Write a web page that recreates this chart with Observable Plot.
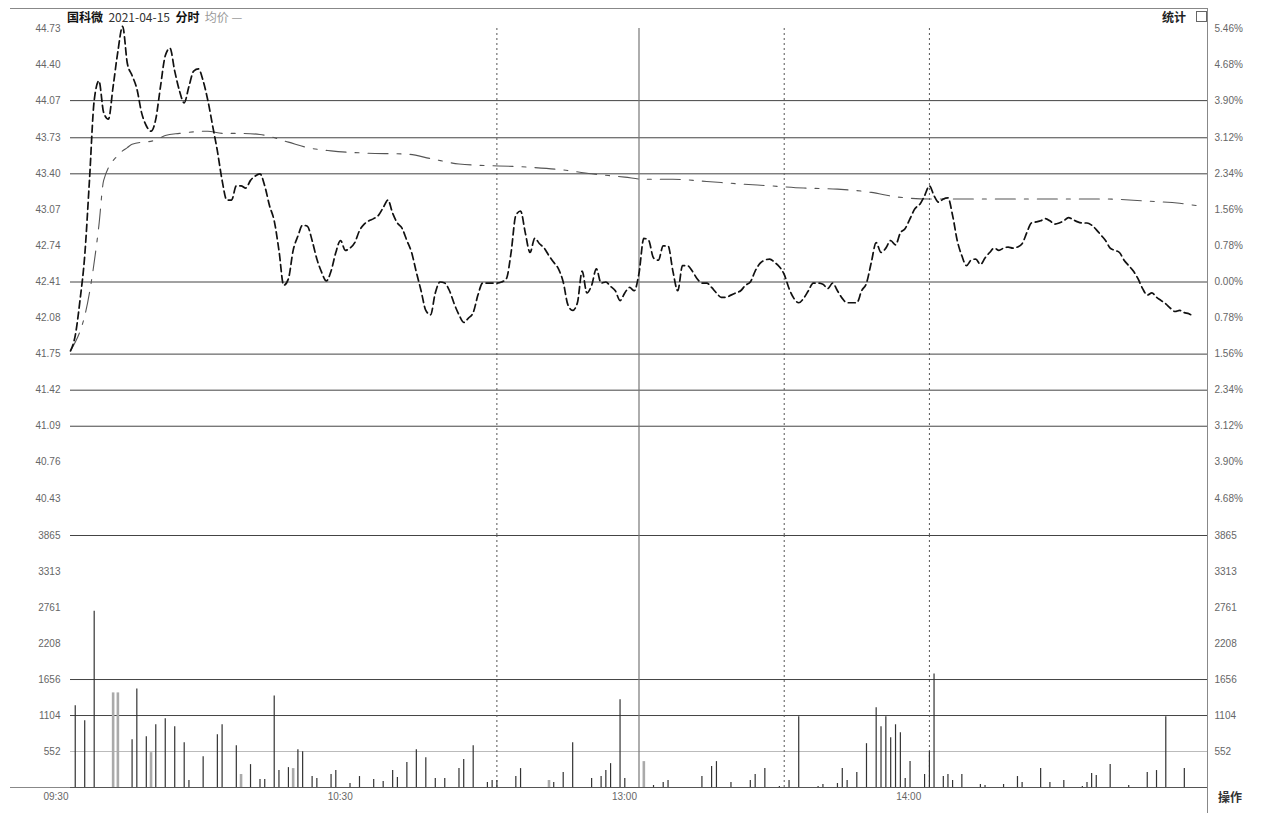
<!DOCTYPE html>
<html><head><meta charset="utf-8">
<script src="https://cdn.jsdelivr.net/npm/d3@7"></script>
<script src="https://cdn.jsdelivr.net/npm/@observablehq/plot@0.6"></script>
<style>
body{margin:0;background:#fff;}
#wrap{position:relative;width:1282px;height:818px;overflow:hidden;background:#fff;font-family:"Noto Sans CJK SC","DejaVu Sans",sans-serif;}
#wrap svg{position:absolute;left:0;top:0;}
.ov{position:absolute;white-space:nowrap;}
</style></head><body><div id="wrap"></div>
<script>
// ---------- data ----------
const prevClose = 42.41;
const priceTicks = [44.73, 44.40, 44.07, 43.73, 43.40, 43.07, 42.74, 42.41, 42.08, 41.75, 41.42, 41.09, 40.76, 40.43, 40.09];
const priceTickLabels = ["44.73","44.40","44.07","43.73","43.40","43.07","42.74","42.41","42.08","41.75","41.42","41.09","40.76","40.43",""];
const pctTickLabels = ["5.46%","4.68%","3.90%","3.12%","2.34%","1.56%","0.78%","0.00%","0.78%","1.56%","2.34%","3.12%","3.90%","4.68%",""];
const priceGridLines = [44.07, 43.73, 43.40, 42.41, 41.75, 41.42, 41.09];
const volTicks = [552, 1104, 1656, 2208, 2761, 3313, 3865];
const volTickLabels = ["552","1104","1656","2208","2761","3313","3865"];
const volGridDark = [1104, 1656, 3865];
const volGridLight = [552];
const timeTicks = [0, 60, 120, 180];
const timeTickLabels = ["09:30", "10:30", "13:00", "14:00"];
const dottedDividers = [90, 150, 180];
const solidDividers = [120];

// price per minute (minute index 0 = 09:30)
const priceValues = [
41.78,41.92,42.24,42.65,43.34,44.07,44.25,43.96,43.90,44.20,
44.52,44.75,44.41,44.30,44.18,43.96,43.84,43.79,43.90,44.20,
44.48,44.55,44.34,44.16,44.05,44.20,44.34,44.36,44.25,44.07,
43.84,43.61,43.34,43.16,43.16,43.29,43.29,43.27,43.34,43.38,
43.40,43.29,43.11,42.97,42.70,42.38,42.44,42.70,42.83,42.93,
42.92,42.79,42.62,42.50,42.42,42.51,42.68,42.79,42.70,42.72,
42.77,42.88,42.94,42.97,42.99,43.02,43.09,43.16,43.04,42.95,
42.90,42.79,42.68,42.50,42.33,42.15,42.11,42.31,42.41,42.40,
42.33,42.21,42.11,42.04,42.08,42.13,42.29,42.40,42.40,42.40,
42.40,42.41,42.44,42.68,43.02,43.06,42.86,42.68,42.81,42.76,
42.72,42.65,42.59,42.53,42.41,42.20,42.15,42.22,42.51,42.31,
42.38,42.53,42.40,42.41,42.37,42.33,42.24,42.31,42.36,42.33,
42.49,
42.81,42.79,42.63,42.61,42.74,42.74,42.51,42.33,42.56,42.56,
42.51,42.44,42.40,42.40,42.36,42.31,42.27,42.27,42.29,42.31,
42.33,42.38,42.41,42.51,42.58,42.61,42.62,42.59,42.55,42.48,
42.35,42.26,42.22,42.26,42.33,42.40,42.40,42.39,42.35,42.40,
42.33,42.26,42.22,42.22,42.22,42.33,42.40,42.59,42.77,42.68,
42.72,42.79,42.75,42.86,42.90,42.99,43.08,43.12,43.20,43.29,
43.20,43.14,43.17,43.18,43.02,42.79,42.65,42.56,42.61,42.62,
42.57,42.63,42.68,42.72,42.70,42.72,42.73,42.72,42.73,42.76,
42.86,42.95,42.96,42.97,42.99,42.97,42.94,42.95,42.97,43.00,
42.98,42.96,42.95,42.95,42.93,42.89,42.84,42.79,42.72,42.70,
42.68,42.61,42.56,42.51,42.44,42.35,42.29,42.31,42.27,42.24,
42.21,42.17,42.14,42.15,42.13,42.12,42.09
];

const avgMinutes = [0,4,6,7,10,12,13,18,20,23,29,32,36,40,46,50,55,62,71,76,82,97,103,110,117,121,127,134,140,147,154,161,168,173,180,190,217,227,234,239];
const avgValues  = [41.78,42.31,42.93,43.34,43.57,43.64,43.67,43.71,43.75,43.77,43.79,43.77,43.77,43.76,43.69,43.64,43.61,43.59,43.58,43.54,43.49,43.46,43.44,43.40,43.37,43.35,43.35,43.33,43.31,43.29,43.27,43.26,43.23,43.19,43.17,43.17,43.17,43.15,43.13,43.10];

const volMinutes = [1,3,5,9,10,13,14,16,17,18,20,22,24,25,28,31,32,35,36,38,40,41,43,44,46,47,48,49,51,52,55,56,59,61,64,66,68,69,71,73,75,77,79,82,83,85,88,89,90,94,95,101,102,104,106,110,112,113,114,116,117,121,123,125,126,133,135,136,139,143,144,146,149,151,153,157,158,161,162,163,165,167,169,170,171,172,173,174,175,176,179,180,181,183,184,185,187,191,192,196,199,200,204,206,209,213,214,215,216,219,223,227,229,231,235];
const volValues  = [1252,1023,2703,1451,1451,733,1512,779,534,962,1054,931,687,107,473,809,962,641,199,351,122,122,1405,260,305,290,580,550,168,137,199,260,61,168,122,92,260,153,382,580,458,137,137,290,428,641,76,107,107,168,290,107,76,229,687,137,168,260,366,1344,137,397,31,76,107,168,321,397,76,107,199,290,15,107,1084,15,46,61,290,107,229,672,1222,931,1084,764,962,840,137,397,199,550,1741,168,199,107,199,46,31,46,168,76,290,76,107,15,76,214,183,351,31,229,260,1084,290];
const volGrayMinutes = [9,10,17,36,47,101,121];

// ---------- build ----------
const W = 1282, H = 818;
const priceRows = priceValues.map((p, m) => ({m, p}));
const avgRows = avgMinutes.map((m, i) => ({m, p: avgValues[i]}));
const volRows = volMinutes.map((m, i) => ({m, v: volValues[i], gray: volGrayMinutes.includes(m)}));
const priceLabel = new Map(priceTicks.map((t, i) => [t, priceTickLabels[i]]));
const pctLabel = new Map(priceTicks.map((t, i) => [t, pctTickLabels[i]]));
const volLabel = new Map(volTicks.map((t, i) => [t, volTickLabels[i]]));
const timeLabel = new Map(timeTicks.map((t, i) => [t, timeTickLabels[i]]));

// the afternoon session in the reference is drawn slightly wider than the morning
const sessionWarp = d3.scaleLinear().domain([0, 120, 180, 240]).range([0, 120, 181.3, 240]);
const xScale = {type: "linear", domain: [0, 240], transform: m => sessionWarp(m), axis: null};
const baseStyle = {background: "transparent", fontFamily: "'Liberation Sans','DejaVu Sans',sans-serif", fontSize: "10px", color: "#666", overflow: "visible"};

const pricePlot = Plot.plot({
  width: W, height: H,
  marginTop: 28, marginBottom: H - 535, marginLeft: 70, marginRight: W - 1207,
  style: baseStyle,
  x: xScale,
  y: {domain: [priceTicks[priceTicks.length - 1], priceTicks[0]], axis: null},
  marks: [
    Plot.ruleY(priceGridLines, {stroke: "#444", strokeWidth: 1}),
    Plot.ruleX(dottedDividers, {stroke: "#555", strokeDasharray: "2,3"}),
    Plot.ruleX(solidDividers, {stroke: "#777", strokeWidth: 1.2}),
    Plot.axisY({anchor: "left", label: null, ticks: priceTicks.slice(0, -1), tickFormat: d => priceLabel.get(d), tickSize: 0, tickPadding: 10}),
    Plot.axisY({anchor: "right", label: null, ticks: priceTicks.slice(0, -1), tickFormat: d => pctLabel.get(d), tickSize: 0, tickPadding: 7}),
    Plot.line(avgRows, {x: "m", y: "p", stroke: "#555", strokeWidth: 1.1, strokeDasharray: "20,9,4,9", curve: "monotone-x"}),
    Plot.line(priceRows, {x: "m", y: "p", stroke: "#111", strokeWidth: 1.7, strokeDasharray: "7,4", curve: "monotone-x"})
  ]
});

const volPlot = Plot.plot({
  width: W, height: H,
  marginTop: 535, marginBottom: H - 787, marginLeft: 70, marginRight: W - 1207,
  style: baseStyle,
  x: xScale,
  y: {domain: [0, volTicks[volTicks.length - 1]], axis: null},
  marks: [
    Plot.ruleY(volGridLight, {stroke: "#bbb", strokeWidth: 1.2}),
    Plot.ruleY(volGridDark, {stroke: "#444", strokeWidth: 1}),
    Plot.ruleX(dottedDividers, {stroke: "#555", strokeDasharray: "2,3"}),
    Plot.ruleX(solidDividers, {stroke: "#777", strokeWidth: 1.2}),
    Plot.ruleX(volRows, {x: "m", y1: 0, y2: "v", stroke: d => d.gray ? "#aaa" : "#333", strokeWidth: d => d.gray ? 2.6 : 1.2}),
    Plot.ruleY([0], {stroke: "#555", strokeWidth: 1.2}),
    Plot.axisY({anchor: "left", label: null, ticks: volTicks, tickFormat: d => volLabel.get(d), tickSize: 0, tickPadding: 10}),
    Plot.axisY({anchor: "right", label: null, ticks: volTicks, tickFormat: d => volLabel.get(d), tickSize: 0, tickPadding: 7}),
    Plot.axisX({label: null, ticks: timeTicks, tickFormat: d => timeLabel.get(d), tickSize: 0, tickPadding: 5, textAnchor: "end", dx: -2})
  ]
});

const wrap = document.getElementById("wrap");
wrap.appendChild(pricePlot);
wrap.appendChild(volPlot);

function ov(html, css) {
  const d = document.createElement("div");
  d.className = "ov";
  d.innerHTML = html;
  d.style.cssText += css;
  wrap.appendChild(d);
}
// frame lines
ov("", "left:10px;top:8px;width:1198px;height:0;border-top:1px solid #888;");
ov("", "left:1207px;top:8px;width:0;height:805px;border-left:1px solid #888;");
ov("", "left:10px;top:787px;width:60px;height:0;border-top:1px solid #888;");
// title
ov('<span style="font-weight:bold;color:#111">国科微</span><span style="color:#333">&nbsp;&nbsp;2021-04-15&nbsp;&nbsp;</span><span style="font-weight:bold;color:#111">分时</span><span style="color:#999">&nbsp;&nbsp;均价 —</span>',
   "left:67px;top:9px;font-size:12px;line-height:16px;");
ov('<span style="font-weight:bold;color:#222">统计</span>', "left:1162px;top:9px;font-size:12px;line-height:16px;");
ov("", "left:1196px;top:11px;width:9px;height:9px;border:1px solid #666;");
ov('<span style="font-weight:bold;color:#333">操作</span>', "left:1218px;top:789px;font-size:12px;line-height:16px;");
</script>
</body></html>
